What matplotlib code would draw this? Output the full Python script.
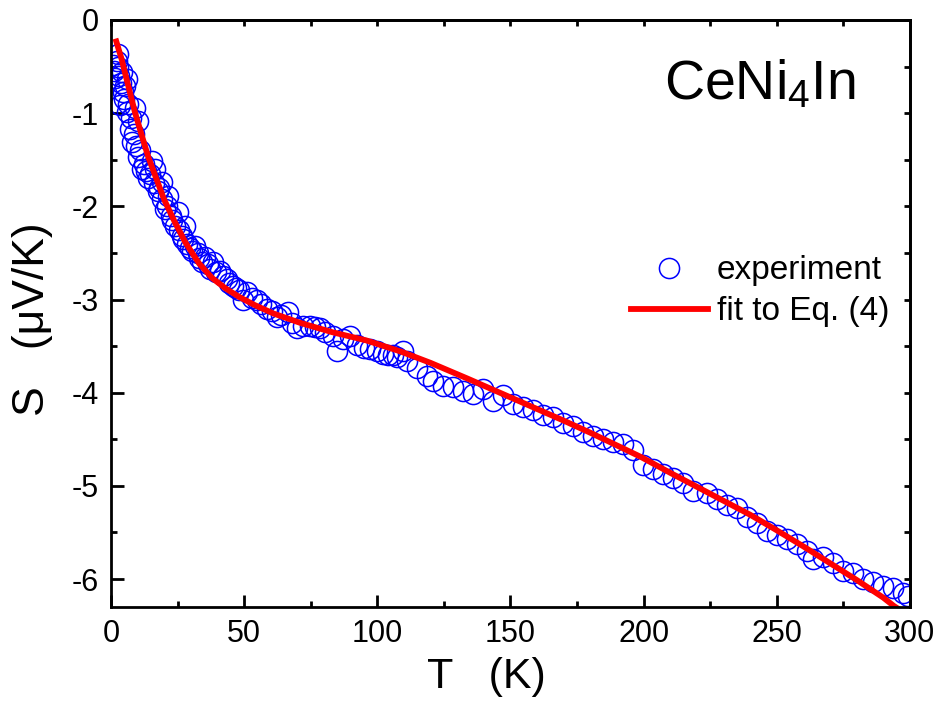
import matplotlib
matplotlib.use('Agg')
import matplotlib.pyplot as plt
from matplotlib.ticker import MultipleLocator

plt.rcParams['font.family'] = ['Liberation Sans', 'DejaVu Sans']
plt.rcParams['axes.unicode_minus'] = False
plt.rcParams['mathtext.default'] = 'regular'

T_exp = [0.8, 1.2, 1.5, 2.3, 2.6, 2.6, 3.0, 3.4, 3.8, 4.1, 4.5, 5.0, 5.3, 6.0,
         6.0, 6.5, 7.1, 7.5, 7.9, 8.5, 9.0, 9.5, 10.1, 10.1, 11.0, 11.6, 12.5,
         13.0, 13.9, 14.5, 15.4, 16.0, 16.5, 17.6, 18.0, 19.0, 19.2, 20.3, 21.0,
         21.4, 22.5, 23.0, 24.0, 25.2, 25.5, 26.7, 27.0, 27.8, 28.5, 29.5, 30.4,
         31.5, 32.5, 33.0, 34.2, 35.3, 36.5, 37.0, 38.3, 39.5, 40.9, 42.0, 43.6,
         44.5, 45.8, 47.0, 48.0, 49.6, 51.1, 53.0, 54.8, 56.5, 58.6, 60.5, 62.3,
         64.0, 66.5, 68.0, 69.8, 72.0, 74.7, 76.5, 78.5, 80.5, 83.4, 84.9, 87.0,
         89.7, 92.4, 95.0, 97.3, 100.0, 102.1, 104.0, 106.0, 107.5, 109.6, 111.0,
         114.9, 118.7, 121.0, 124.7, 128.4, 132.2, 136.0, 139.7, 143.4, 147.2,
         151.0, 154.7, 158.5, 162.2, 166.0, 169.7, 173.5, 177.2, 181.0, 184.7,
         188.5, 192.3, 196.0, 199.8, 203.5, 207.3, 211.0, 214.8, 218.6, 223.8,
         227.6, 231.3, 235.1, 238.8, 242.6, 246.3, 250.1, 253.9, 257.6, 261.4,
         263.6, 267.4, 271.1, 274.9, 278.6, 282.4, 286.1, 289.9, 293.6, 297.4,
         299.3]
S_exp = [-0.48, -0.55, -0.62, -0.44, -0.37, -0.50, -0.60, -0.91, -0.68, -0.56,
         -0.77, -0.85, -0.71, -0.63, -0.99, -0.90, -1.17, -1.05, -1.31, -1.22,
         -0.94, -1.35, -1.08, -1.47, -1.40, -1.60, -1.55, -1.62, -1.70, -1.65,
         -1.51, -1.75, -1.60, -1.84, -1.80, -1.92, -1.74, -2.03, -2.00, -1.89,
         -2.10, -2.15, -2.21, -2.06, -2.25, -2.32, -2.35, -2.21, -2.40, -2.45,
         -2.48, -2.43, -2.50, -2.55, -2.60, -2.54, -2.62, -2.67, -2.60, -2.70,
         -2.69, -2.75, -2.78, -2.82, -2.85, -2.88, -2.90, -3.01, -2.92, -2.98,
         -3.00, -3.05, -3.10, -3.12, -3.19, -3.17, -3.13, -3.25, -3.31, -3.28,
         -3.28, -3.30, -3.31, -3.35, -3.39, -3.55, -3.42, -3.39, -3.49, -3.52,
         -3.53, -3.55, -3.58, -3.60, -3.60, -3.62, -3.55, -3.66, -3.74, -3.82,
         -3.87, -3.93, -3.94, -3.98, -4.01, -3.96, -4.09, -4.03, -4.12, -4.15,
         -4.19, -4.24, -4.26, -4.33, -4.36, -4.42, -4.46, -4.50, -4.53, -4.55,
         -4.62, -4.78, -4.82, -4.87, -4.92, -4.97, -5.05, -5.08, -5.14, -5.21,
         -5.24, -5.33, -5.40, -5.48, -5.53, -5.57, -5.62, -5.70, -5.78, -5.76,
         -5.83, -5.91, -5.94, -6.00, -6.03, -6.07, -6.10, -6.15, -6.18]

# fit curve
T_fit = [2, 4, 6, 9, 12, 14, 17, 20, 24, 28, 33, 38, 43, 48, 54, 61, 71, 83, 96,
         109, 120, 134, 146, 158, 170, 180, 191, 199, 210, 220, 230, 240, 249,
         260, 270, 280, 290, 294, 300]
S_fit = [-0.23, -0.42, -0.65, -0.99, -1.28, -1.47, -1.70, -1.93, -2.17, -2.39,
         -2.61, -2.77, -2.88, -2.97, -3.06, -3.15, -3.25, -3.35, -3.44, -3.56,
         -3.68, -3.85, -4.00, -4.15, -4.30, -4.43, -4.58, -4.69, -4.86, -5.01,
         -5.16, -5.31, -5.46, -5.65, -5.83, -6.01, -6.20, -6.29, -6.40]

fig = plt.figure(figsize=(9.38, 7.04), dpi=100)
ax = fig.add_axes([0.1183, 0.1378, 0.8518, 0.8338])

ax.plot(T_exp, S_exp, 'o', ls='none', mfc='none', mec='#0000ff', ms=14.5,
        mew=1.1, label='experiment')
ax.plot(T_fit, S_fit, '-', color='#ff0000', lw=4.2, label='fit to Eq. (4)')

ax.set_xlim(0, 300)
ax.set_ylim(-6.3, 0)
ax.xaxis.set_major_locator(MultipleLocator(50))
ax.xaxis.set_minor_locator(MultipleLocator(25))
ax.yaxis.set_major_locator(MultipleLocator(1))
ax.yaxis.set_minor_locator(MultipleLocator(0.5))
ax.tick_params(which='major', direction='in', length=9, width=2, labelsize=22, pad=9)
ax.tick_params(which='minor', direction='in', length=4.5, width=2)
for sp in ax.spines.values():
    sp.set_linewidth(2)

# short ticks on top and right
top = ax.secondary_xaxis('top')
top.xaxis.set_major_locator(MultipleLocator(25))
top.tick_params(direction='in', length=4.5, width=2, labeltop=False)
right = ax.secondary_yaxis('right')
right.yaxis.set_major_locator(MultipleLocator(0.5))
right.tick_params(direction='in', length=4.5, width=2, labelright=False)
top.spines['top'].set_linewidth(2)
right.spines['right'].set_linewidth(2)

ax.set_xlabel('T   (K)', fontsize=31)
ax.xaxis.set_label_coords(0.47, -0.085)
ax.set_ylabel('S   (\u03bcV/K)', fontsize=32)
ax.yaxis.set_label_coords(-0.072, 0.49)

ax.text(0.692, 0.89, 'CeNi$_4$In', transform=ax.transAxes, fontsize=40,
        ha='left', va='center')

ax.legend(loc='center left', bbox_to_anchor=(0.634, 0.5375), frameon=False,
          fontsize=24, handlelength=2.3, handletextpad=0.27, labelspacing=0.3,
          borderaxespad=0)

fig.savefig('out.png', dpi=100)
